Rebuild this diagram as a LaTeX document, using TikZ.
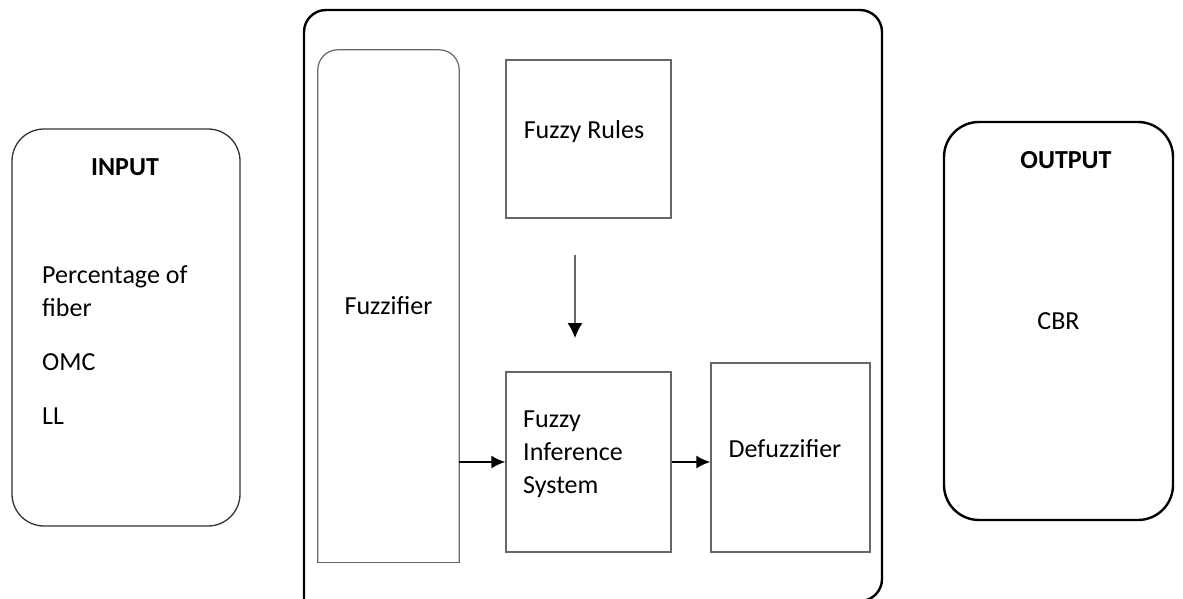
\documentclass[tikz,border=0pt]{standalone}
\usepackage{fontspec}
\setmainfont{Carlito}
\usetikzlibrary{arrows.meta}
\tikzset{
	blk/.style={draw=black!60, line width=1.2pt, inner sep=0pt},
	term/.style={draw, inner sep=0pt},
	lbl/.style={inner sep=0pt, align=left}
}
\begin{document}
\begin{tikzpicture}[x=1pt, y=-1pt, >={Latex[length=14pt,width=13pt]},
	font=\fontsize{26}{33}\selectfont]
	\useasboundingbox (0,0) rectangle (1183,599);
	% input and output
	\node[term, draw=black!80, line width=1.3pt, rounded corners=32pt, minimum width=228pt, minimum height=397pt] (input) at (126,327.5) {};
	\node[font=\fontsize{26}{33}\selectfont\bfseries] (intitle) at (125,167) {INPUT};
	\node[lbl, anchor=west] (inlist) at (42,345) {Percentage of\\fiber\\[21pt]OMC\\[21pt]LL};
	\node[term, line width=2.4pt, rounded corners=35pt, minimum width=229pt, minimum height=398pt] (output) at (1058.5,321) {CBR};
	\node[font=\fontsize{26}{33}\selectfont\bfseries] (outtitle) at (1066,160) {OUTPUT};
	% fuzzy system
	\draw[line width=2.4pt, rounded corners=22pt] (304,620) -- (304,10) -- (882,10) -- (882,601) -- (840,601);
	\node[inner sep=0pt, minimum width=141pt, minimum height=512pt] (fuzz) at (388.5,306) {Fuzzifier};
	\draw[blk, rounded corners=20pt] (fuzz.south west) -- (fuzz.north west) -- (fuzz.north east) -- (fuzz.south east);
	\draw[blk, line cap=rect] (fuzz.south west) -- (fuzz.south east);
	\node[blk, minimum width=165pt, minimum height=158pt] (rules) at (588.5,139) {};
	\node (rulestext) at (584,132) {Fuzzy Rules};
	\node[blk, minimum width=165pt, minimum height=180pt] (fis) at (588.5,462) {};
	\node[lbl, anchor=west] (fistext) at (523,454) {Fuzzy\\Inference\\System};
	\node[blk, minimum width=159pt, minimum height=189pt] (defuzz) at (790.5,457.5) {};
	\node (defuzztext) at (785,449) {Defuzzifier};
	% arrows
	\coordinate (r1) at (575,255);
	\coordinate (r2) at (575,338);
	\draw[draw=black!60, line width=1.2pt, -{Latex[length=15pt,width=15pt,color=black]}] (r1) -- (r2);
	\draw[->, line width=2.2pt] (fuzz.east |- fis.west) -- (fis.west);
	\draw[->, line width=2.2pt] (fis.east) -- (defuzz.west |- fis.east);
\end{tikzpicture}
\end{document}
